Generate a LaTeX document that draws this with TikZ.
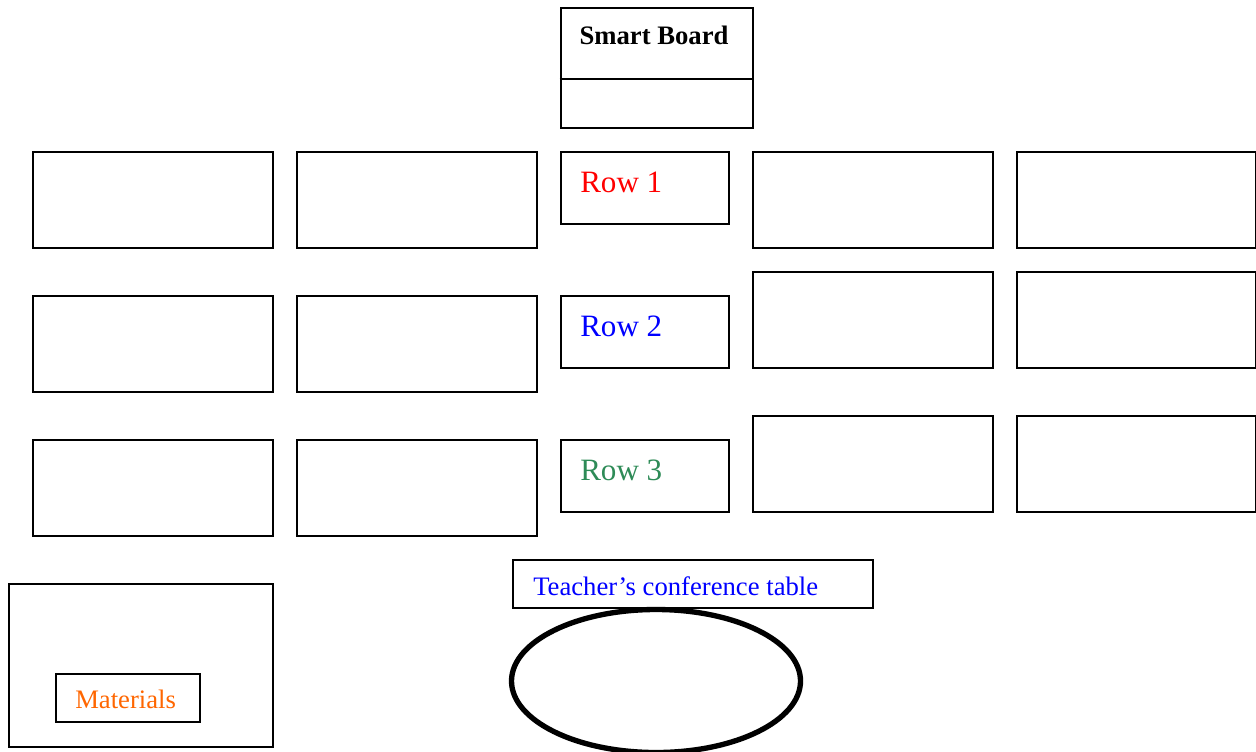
\documentclass[tikz,border=0pt]{standalone}
\usepackage{fontspec}
\setmainfont{Liberation Serif}
\usetikzlibrary{shapes.geometric}
\definecolor{rowgreen}{RGB}{46,139,87}
\definecolor{matorange}{RGB}{255,102,0}
\begin{document}
\begin{tikzpicture}[x=0.75pt,y=-0.75pt,
  box/.style={draw,line width=1.5pt,rectangle,inner sep=0pt,anchor=north west},
  desk/.style={box,minimum width=240*0.75pt,minimum height=96*0.75pt},
  rowbox/.style={box,minimum width=168*0.75pt,minimum height=72*0.75pt},
  rowlbl/.style={anchor=base west,inner sep=0pt,font=\fontsize{23.3}{28}\selectfont},
  smalllbl/.style={anchor=base west,inner sep=0pt,font=\fontsize{20}{24}\selectfont}]
\useasboundingbox (0,0) rectangle (1256,751);
% smart board
\node[box,minimum width=192*0.75pt,minimum height=120*0.75pt] (board) at (559.5,6.5) {};
\coordinate (div) at (0,79);
\draw[line width=1.5pt] (board.west |- div) -- (board.east |- div);
\node[anchor=base,inner sep=0pt,font=\fontsize{20}{24}\selectfont\bfseries] (boardtxt) at (654,44) {Smart Board};
% left desks
\node[desk] (l11) at (31.5,150.5) {};
\node[desk] (l12) at (295.5,150.5) {};
\node[desk] (l21) at (31.5,294.5) {};
\node[desk] (l22) at (295.5,294.5) {};
\node[desk] (l31) at (31.5,438.5) {};
\node[desk] (l32) at (295.5,438.5) {};
% row labels
\node[rowbox] (row1) at (559.5,150.5) {};
\node[rowbox] (row2) at (559.5,294.5) {};
\node[rowbox] (row3) at (559.5,438.5) {};
\node[rowlbl,text=red] (row1txt) at (580,192) {Row 1};
\node[rowlbl,text=blue] (row2txt) at (580,336) {Row 2};
\node[rowlbl,text=rowgreen] (row3txt) at (580,480) {Row 3};
% right desks
\node[desk] (r11) at (751.5,150.5) {};
\node[desk,minimum width=239*0.75pt] (r12) at (1015.5,150.5) {};
\node[desk] (r21) at (751.5,270.5) {};
\node[desk,minimum width=239*0.75pt] (r22) at (1015.5,270.5) {};
\node[desk] (r31) at (751.5,414.5) {};
\node[desk,minimum width=239*0.75pt] (r32) at (1015.5,414.5) {};
% teacher table
\node[box,minimum width=360*0.75pt,minimum height=48*0.75pt] (tlabel) at (511.5,558.5) {};
\node[smalllbl,text=blue] (tlabeltxt) at (533,595) {Teacher’s conference table};
\node[draw,ellipse,line width=4pt,inner sep=0pt,minimum width=289*0.75pt,minimum height=143*0.75pt] (table) at (656,681) {};
% materials
\node[box,minimum width=264*0.75pt,minimum height=163*0.75pt] (mat) at (7.5,582.5) {};
\node[box,minimum width=144*0.75pt,minimum height=48*0.75pt] (matbox) at (54.5,672.5) {};
\node[smalllbl,text=matorange] (mattxt) at (75,708) {Materials};
\end{tikzpicture}
\end{document}
